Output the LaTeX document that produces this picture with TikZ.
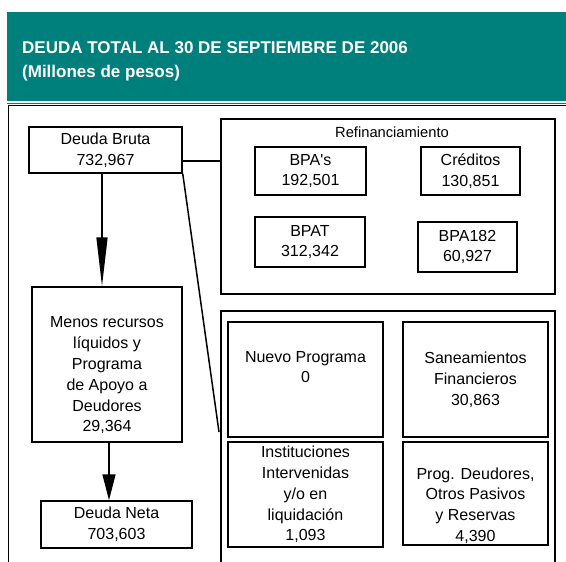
\documentclass[tikz,border=0pt]{standalone}
\usepackage{fontspec}
\setmainfont{Liberation Sans}
\usetikzlibrary{arrows.meta}
\definecolor{headteal}{RGB}{0, 128, 124}

\begin{document}
\begin{tikzpicture}[x=1pt, y=-1pt,
    box/.style={draw, line width=1.5pt, inner sep=0pt, align=center,
      font=\fontsize{16}{20.8}\selectfont},
    txt/.style={inner sep=0pt, align=center, font=\fontsize{16}{20.8}\selectfont},
    headtext/.style={inner sep=0pt, text=white, font=\fontsize{17}{24}\selectfont\bfseries},
    arr/.style={line width=1.5pt}]
  \clip (0, 0) rectangle (566, 562);

  % header band
  \fill[headteal] (7, 12) rectangle (566, 101);
  \draw[headteal, line width=0.8pt] (7, 103.3) -- (566, 103.3);
  \node[headtext, anchor=base west] (title) at (22, 53) {DEUDA TOTAL AL 30 DE SEPTIEMBRE DE 2006};
  \node[headtext, anchor=base west] (subtitle) at (22, 77) {(Millones de pesos)};

  % outer frame
  \draw[line width=1.8pt] (8.5, 620) -- (8.5, 105.5) -- (620, 105.5);

  % left column
  \node[box, minimum width=153pt, minimum height=46pt] (bruta) at (105.5, 150) {Deuda Bruta\\732,967};
  \node[box, minimum width=150pt, minimum height=155pt] (menos) at (107, 364.5) {};
  \node[txt] (menoslbl) at ([yshift=-11pt]menos.center)
    {Menos recursos\\l\'iquidos y\\Programa\\de Apoyo a\\Deudores\\29,364};
  \node[box, minimum width=151pt, minimum height=47pt] (neta) at (116.5, 524.5) {Deuda Neta\\703,603};

  % refinanciamiento
  \node[box, minimum width=334pt, minimum height=175pt] (refi) at (388, 206.5) {};
  \node[txt, font=\fontsize{14.7}{18}\selectfont] (refilbl) at (392, 132) {Refinanciamiento};
  \node[box, minimum width=111pt, minimum height=48pt] (bpas) at (310.5, 171) {BPA\textquotesingle s\\192,501};
  \node[box, minimum width=99pt, minimum height=48pt] (creditos) at (470.5, 171) {Cr\'editos\\130,851};
  \node[box, minimum width=110pt, minimum height=50pt] (bpat) at (310, 242) {BPAT\\312,342};
  \node[box, minimum width=99pt, minimum height=50pt] (bpa182) at (467.5, 247) {BPA182\\60,927};

  % other programs
  \node[box, minimum width=334pt, minimum height=289pt] (otros) at (388, 455.5) {};
  \node[box, minimum width=155pt, minimum height=115pt] (nuevo) at (305.5, 379.5) {};
  \node[txt] (nuevolbl) at ([yshift=12.5pt]nuevo.center) {Nuevo Programa\\0};
  \node[box, minimum width=145pt, minimum height=115pt] (sanea) at (475.5, 379.5)
    {Saneamientos\\Financieros\\30,863};
  \node[box, minimum width=155pt, minimum height=105pt] (inst) at (305.5, 494.5)
    {Instituciones\\Intervenidas\\y/o en\\liquidaci\'on\\1,093};
  \node[box, minimum width=145pt, minimum height=103pt] (prog) at (475.5, 493.5) {};
  \node[txt] (proglbl) at ([yshift=-12pt]prog.center)
    {Prog. Deudores,\\Otros Pasivos\\y Reservas\\4,390};

  % connectors
  \draw[arr, -{Triangle[length=49pt, width=11pt]}] ([xshift=-3.5pt]bruta.south) -- ([xshift=-5pt]menos.north);
  \draw[arr, -{Triangle[length=26pt, width=13pt]}] ([xshift=2pt]menos.south) -- ([xshift=-7.5pt]neta.north);
  \draw[arr] ([yshift=-11pt]bruta.east) -- ([yshift=-11pt]bruta.east -| refi.west);
  \coordinate (diagend) at (219, 432);
  \draw[arr] (bruta.south east) -- (diagend);
\end{tikzpicture}
\end{document}
